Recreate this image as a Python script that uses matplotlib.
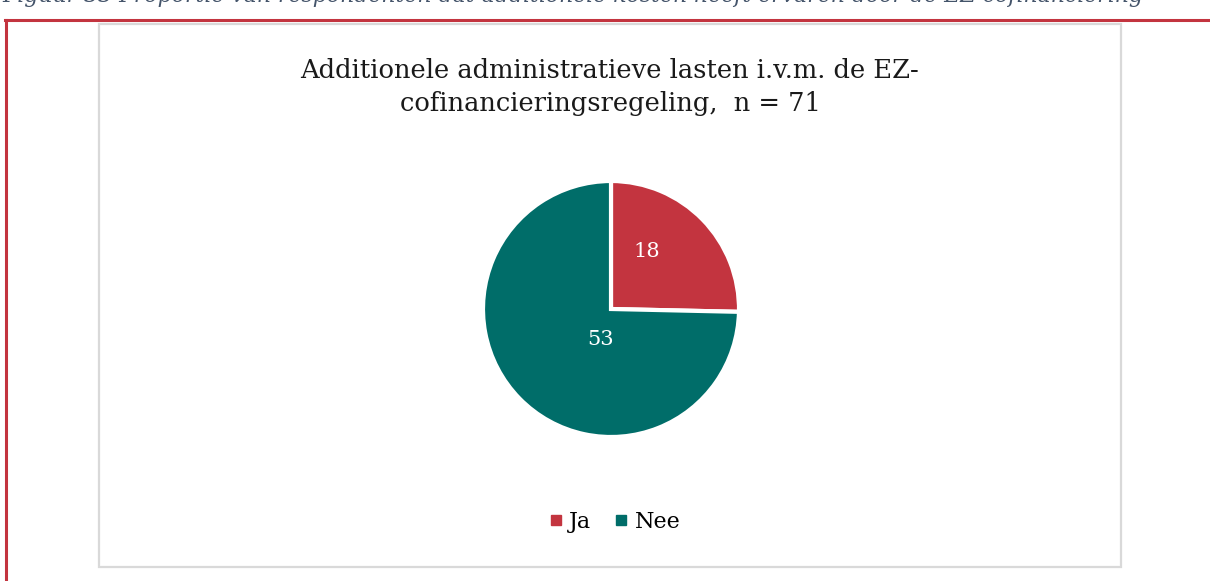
import matplotlib
matplotlib.use("Agg")
import matplotlib.pyplot as plt
from matplotlib.patches import Rectangle
from matplotlib.lines import Line2D

# ---- data ----
categories = ["Ja", "Nee"]
values = [18, 53]
colors = ["#C3343F", "#006D69"]
title = "Additionele administratieve lasten i.v.m. de EZ-\ncofinancieringsregeling,  n = 71"
caption = "Figuur 33 Proportie van respondenten dat additionele kosten heeft ervaren door de EZ-cofinanciering"

W, H = 1210, 581
fig = plt.figure(figsize=(W / 100, H / 100), dpi=100)
fig.patch.set_facecolor("white")

serif = ["DejaVu Serif"]

# background axes in pixel coordinates (y downward)
bg = fig.add_axes([0, 0, 1, 1])
bg.set_xlim(0, W)
bg.set_ylim(H, 0)
bg.axis("off")

# cropped caption at the very top
bg.text(2, 2, caption, fontsize=15.8, style="italic", family=serif,
        color="#44546A", ha="left", va="baseline", clip_on=False)

# red document frame
bg.add_line(Line2D([6, 6], [20, H], color="#C3343F", lw=2.2))
bg.add_line(Line2D([5, W], [20, 20], color="#C3343F", lw=2.2))

# grey chart box
bg.add_patch(Rectangle((99, 24), 1022, 543, fill=False, edgecolor="#D9D9D9", lw=1.6))

# title
bg.text(610, 87, title, fontsize=18.5, family=serif, color="#1a1a1a",
        ha="center", va="center", linespacing=1.45)

# pie
cx, cy, r = 611, 309, 128
pax = fig.add_axes([(cx - r) / W, (H - cy - r) / H, 2 * r / W, 2 * r / H])
wedges, _ = pax.pie(values, colors=colors, startangle=90, counterclock=False,
                    wedgeprops=dict(edgecolor="white", linewidth=3))
pax.set_xlim(-1.0, 1.0)
pax.set_ylim(-1.0, 1.0)
pax.set_aspect("equal")
pax.axis("off")

label_pos = [(0.28, 0.45), (-0.08, -0.24)]
for (x, y), v in zip(label_pos, values):
    pax.text(x, y, str(v), fontsize=15, family=serif, color="white",
             ha="center", va="center")

# legend
handles = [Line2D([], [], marker="s", linestyle="none", markersize=7,
                  markerfacecolor=c, markeredgecolor=c) for c in colors]
fig.legend(handles, categories, loc="center", bbox_to_anchor=(613 / W, 1 - 522 / H),
           ncol=2, frameon=False, prop=dict(family=serif, size=16),
           handletextpad=0.15, columnspacing=0.9, handlelength=0.9)

fig.savefig("out.png", dpi=100)
